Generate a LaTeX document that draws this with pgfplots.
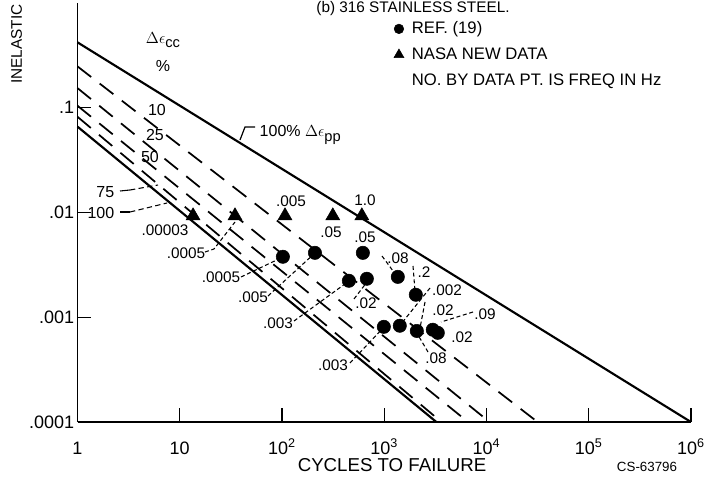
\documentclass[border=0pt]{standalone}
\usepackage{fontspec}
\setmainfont{Liberation Sans}
\usepackage{pgfplots}
\pgfplotsset{compat=1.18}
\begin{document}
\begin{tikzpicture}
\begin{axis}[
  at={(0,0)}, anchor=south west,
  scale only axis, width=460.1pt, height=314.25pt,
  xmode=log, ymode=log,
  xmin=1, xmax=1e6, ymin=1e-4, ymax=1,
  axis x line=bottom, axis y line=left,
  axis line style={-, line width=1.3pt},
  xtick={1,10,100,1000,1e4,1e5,1e6},
  xticklabels={1,10,10\textsuperscript{2},10\textsuperscript{3},10\textsuperscript{4},10\textsuperscript{5},10\textsuperscript{6}},
  ytick={1e-4,1e-3,1e-2,1e-1},
  yticklabels={.0001,.001,.01,.1},
  xminorticks=false, yminorticks=false,
  tick align=inside, major tick length=10.5pt,
  tick style={line width=1.1pt, black},
  ticklabel style={font=\fontsize{13.5}{15}\selectfont},
  xticklabel style={anchor=base, yshift=-24pt},
  yticklabel style={xshift=1pt},
  clip=false,
  legend style={at={(0.505,0.962)}, anchor=north west, draw=none, fill=none,
    font=\fontsize{12.5}{14}\selectfont, row sep=5pt, inner sep=0pt,
    /tikz/every odd column/.style={column sep=4pt}},
  legend cell align=left,
]
% strain-range lines
\addplot[forget plot, black, line width=1.6pt] coordinates {(1,0.421) (1e6,1e-4)};
\addplot[forget plot, black, line width=1.3pt, dash pattern=on 13pt off 8pt] coordinates {(1,0.248) (31623,1e-4)};
\addplot[forget plot, black, line width=1.3pt, dash pattern=on 13pt off 8pt] coordinates {(1,0.154) (10715,1e-4)};
\addplot[forget plot, black, line width=1.3pt, dash pattern=on 13pt off 8pt] coordinates {(1,0.1045) (6607,1e-4)};
\addplot[forget plot, black, line width=1.3pt, dash pattern=on 13pt off 8pt] coordinates {(1,0.082) (3631,1e-4)};
\addplot[forget plot, black, line width=1.6pt] coordinates {(1,0.066) (3236,1e-4)};
% REF (19)
\addplot[only marks, mark=*, mark size=5pt, black, legend image post style={mark size=3.6pt}] coordinates {
 (102,0.00378) (210,0.00412) (618,0.00412) (451,0.00223) (676,0.00233)
 (1358,0.00243) (2037,0.00164) (991,0.00081) (1420,0.00083) (2083,0.00074)
 (2985,0.00076) (3342,0.00071)};
\addlegendentry{REF. (19)}
% NASA new data
\addplot[only marks, mark=triangle*, mark size=6pt, black, legend image post style={mark size=4.3pt}] coordinates {
 (13.5,0.0093) (34.7,0.0093) (107,0.0093) (314,0.0093) (604,0.0093)};
\addlegendentry{NASA NEW DATA}
\addlegendimage{empty legend}
\addlegendentry{NO. BY DATA PT. IS FREQ IN Hz}
\end{axis}
\begin{scope}[x=0.75pt, y=-0.75pt, shift={(-58.125pt,316.5pt)}]
 \node[rotate=90, anchor=base west, font=\fontsize{11.5}{13}\selectfont, inner sep=0pt] at (22,84) {INELASTIC};
 \node[anchor=base, font=\fontsize{11.5}{13}\selectfont, inner sep=0pt] at (413,13) {(b) 316 STAINLESS STEEL.};
 \node[font=\fontsize{14}{16}\selectfont] at (392,465) {CYCLES TO FAILURE};
 \node[font=\fontsize{10}{12}\selectfont] at (647,467) {CS-63796};
 % cc labels
 \begin{scope}[font=\fontsize{12}{14}\selectfont]
  \node at (163,40) {$\Delta\epsilon$\raisebox{-0.5ex}{\fontsize{11}{12}\selectfont cc}};
  \node at (163,66) {\%};
  \node at (157,110) {10};
  \node at (155,135) {25};
  \node at (150,157) {50};
  \node[anchor=east] at (119,192) {75};
  \node[anchor=east] at (119,213) {100};
  \node[anchor=west] at (255,135) {100\% $\Delta\epsilon$\raisebox{-0.5ex}{\fontsize{11}{12}\selectfont pp}};
 \end{scope}
 \draw[line width=0.8pt] (120,191) -- (130,190);
 \draw[line width=0.8pt, dash pattern=on 4pt off 2.5pt] (130,190) -- (158,185);
 \draw[line width=0.8pt] (120,212) -- (130,212);
 \draw[line width=0.8pt, dash pattern=on 4pt off 2.5pt] (130,212) -- (167,203);
 \draw[line width=0.9pt] (255,127) -- (245,127) -- (240,140);
 % frequency labels
 \begin{scope}[font=\fontsize{11.5}{13}\selectfont]
  \node at (165,230) {.00003};
  \node at (186,253) {.0005};
  \node at (221,277) {.0005};
  \node at (253,297) {.005};
  \node at (278,323) {.003};
  \node at (333,365) {.003};
  \node at (291,201) {.005};
  \node at (331,232) {.05};
  \node at (365,200) {1.0};
  \node at (365,237) {.05};
  \node at (398,258) {.08};
  \node at (424,272) {.2};
  \node at (447,290) {.002};
  \node at (366,303) {.02};
  \node at (443,310) {.02};
  \node at (485,314) {.09};
  \node at (462,337) {.02};
  \node at (436,358) {.08};
 \end{scope}
 \begin{scope}[line width=0.8pt, dash pattern=on 3pt off 2pt]
  \draw (205,252) -- (214,249) -- (235,222);
  \draw (241,277) -- (283,257);
  \draw (268,296) -- (315,253);
  \draw (294,321) -- (349,281);
  \draw (350,363) -- (384,327);
  \draw (354,299) -- (367,282);
  \draw (382,256) -- (396,275);
  \draw (413,266) -- (415,291);
  \draw (430,288) -- (401,324);
  \draw (425,302) -- (420,328);
  \draw (473,312) -- (441,322);
  \draw (428,352) -- (418,335);
 \end{scope}
 \pgfresetboundingbox
 \path[use as bounding box] (0,0) rectangle (706,485);
\end{scope}
\end{tikzpicture}
\end{document}
